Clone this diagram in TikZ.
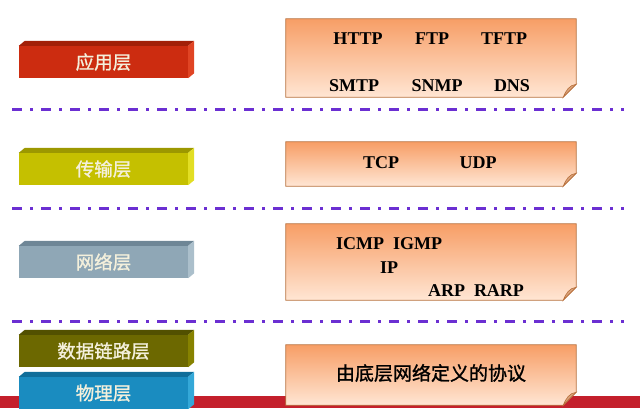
\documentclass[tikz,border=0pt]{standalone}
\usepackage{fontspec}
\setmainfont{Liberation Serif}
\newfontfamily\cjk[FakeBold=1.2]{Noto Sans CJK SC}
\usepackage{xcolor}
\definecolor{appfront}{HTML}{CC2C10}
\definecolor{apptop}{HTML}{A22008}
\definecolor{appside}{HTML}{E04424}
\definecolor{transfront}{HTML}{C5C000}
\definecolor{transtop}{HTML}{9C9800}
\definecolor{transside}{HTML}{E2DE24}
\definecolor{netfront}{HTML}{8FA7B6}
\definecolor{nettop}{HTML}{6E8696}
\definecolor{netside}{HTML}{ABBFCB}
\definecolor{linkfront}{HTML}{6C6800}
\definecolor{linktop}{HTML}{525000}
\definecolor{linkside}{HTML}{878200}
\definecolor{physfront}{HTML}{1A8CC0}
\definecolor{phystop}{HTML}{106E9A}
\definecolor{physside}{HTML}{34A8D8}
\definecolor{boxtop}{HTML}{F79E66}
\definecolor{boxbottom}{HTML}{FFE6D4}
\definecolor{boxborder}{HTML}{B8703C}
\definecolor{foldcolor}{HTML}{D9A27A}
\definecolor{sepline}{HTML}{6B2FD2}
\definecolor{redbar}{HTML}{C4202C}
\definecolor{labeltext}{HTML}{F4F0DC}
\usepackage{tikz}
\usetikzlibrary{calc}
\tikzset{%
    layer/.style={%
        minimum width=169pt, minimum height=32pt, inner sep=0,
        text=labeltext, font=\cjk\fontsize{18.5}{20}\selectfont,
    },
    protobox/.style={%
        minimum width=290pt, inner sep=0,
    },
    proto/.style={%
        anchor=base, inner sep=0, font=\bfseries\fontsize{18}{20}\selectfont,
    },
    sep/.style={%
        draw=sepline, line width=3pt,
        dash pattern=on 10pt off 8pt on 3pt off 8pt,
    },
}
% raised block: top face and right face
\newcommand{\bevel}[3]{%
    \fill[#2] (#1.north west) -- ++(6,-5) -- ($(#1.north east)+(6,-5)$) -- (#1.north east) -- cycle;
    \fill[#3] (#1.north east) -- ++(6,-5) -- ($(#1.south east)+(6,-5)$) -- (#1.south east) -- cycle;
}
% note sheet with a turned-up corner
\newcommand{\note}[1]{%
    \shade[top color=boxtop, bottom color=boxbottom, draw=boxborder, line width=0.8pt]
        (#1.north west) -- (#1.north east) -- ($(#1.south east)+(0,-13)$)
        -- ($(#1.south east)+(-13,0)$) -- (#1.south west) -- cycle;
    \fill[foldcolor, draw=boxborder, line width=0.6pt]
        ($(#1.south east)+(0,-13)$) .. controls ($(#1.south east)+(-7,-12)$) and ($(#1.south east)+(-10,-7)$)
        .. ($(#1.south east)+(-13,0)$) -- cycle;
}

\begin{document}
\begin{tikzpicture}[x=1pt, y=-1pt]
    \useasboundingbox (0,0) rectangle (640,408);

    \fill[redbar] (0,396) rectangle (640,408);

    % separators
    \draw[sep] (12,109) -- (624,109);
    \draw[sep] (12,208) -- (624,208);
    \draw[sep] (12,321) -- (624,321);

    % layers
    \node[layer, fill=appfront] (app) at (103.5,62) {\raisebox{-1.5pt}{应用层}};
    \bevel{app}{apptop}{appside}
    \node[layer, fill=transfront] (trans) at (103.5,169) {\raisebox{-1.5pt}{传输层}};
    \bevel{trans}{transtop}{transside}
    \node[layer, fill=netfront] (net) at (103.5,262) {\raisebox{-1.5pt}{网络层}};
    \bevel{net}{nettop}{netside}
    \node[layer, fill=linkfront] (link) at (103.5,351) {\raisebox{-1.5pt}{数据链路层}};
    \bevel{link}{linktop}{linkside}
    \node[layer, fill=physfront] (phys) at (103.5,393) {物理层};
    \bevel{phys}{phystop}{physside}

    % protocol notes
    \node[protobox, minimum height=78pt] (appbox) at (431,58) {};
    \note{appbox}
    \node[protobox, minimum height=44pt] (transbox) at (431,164) {};
    \note{transbox}
    \node[protobox, minimum height=76pt] (netbox) at (431,262) {};
    \note{netbox}
    \node[protobox, minimum height=60pt] (lowbox) at (431,375) {};
    \note{lowbox}

    \node[proto] (http) at (358,44) {HTTP};
    \node[proto] (ftp) at (432,44) {FTP};
    \node[proto] (tftp) at (504,44) {TFTP};
    \node[proto] (smtp) at (354,91) {SMTP};
    \node[proto] (snmp) at (437,91) {SNMP};
    \node[proto] (dns) at (512,91) {DNS};

    \node[proto] (tcp) at (381,168) {TCP};
    \node[proto] (udp) at (478,168) {UDP};

    \node[proto] (icmp) at (389,249) {ICMP\ \ IGMP};
    \node[proto] (ip) at (389,273) {IP};
    \node[proto] (arp) at (476,296) {ARP\ \ RARP};

    \node[font=\cjk\fontsize{19}{21}\selectfont, inner sep=0] (lower) at (431,373) {由底层网络定义的协议};
\end{tikzpicture}
\end{document}
